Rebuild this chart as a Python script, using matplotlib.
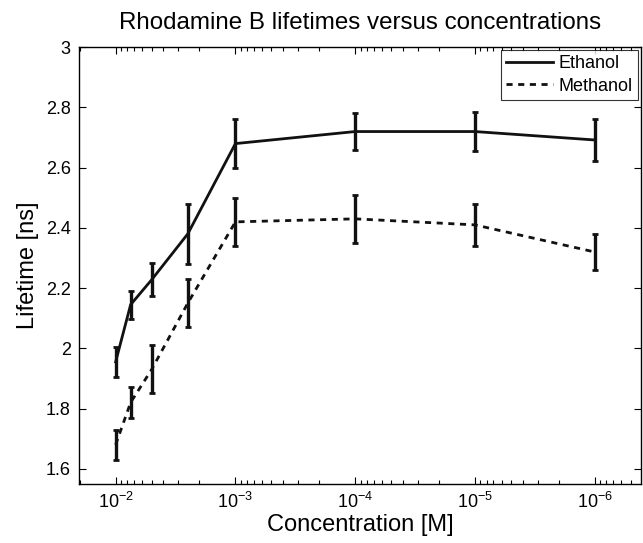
import matplotlib
matplotlib.use("Agg")
import matplotlib.pyplot as plt
import numpy as np

plt.rcParams['font.family'] = ['Liberation Sans', 'DejaVu Sans']
plt.rcParams['mathtext.fontset'] = 'custom'
plt.rcParams['mathtext.rm'] = 'Liberation Sans'

# data
conc = [1e-2, 7.5e-3, 5e-3, 2.5e-3, 1e-3, 1e-4, 1e-5, 1e-6]
ethanol = [1.955, 2.145, 2.228, 2.38, 2.68, 2.72, 2.72, 2.692]
ethanol_err = [0.05, 0.046, 0.055, 0.10, 0.082, 0.062, 0.066, 0.07]
methanol = [1.68, 1.82, 1.93, 2.15, 2.42, 2.43, 2.41, 2.32]
methanol_err = [0.05, 0.053, 0.08, 0.08, 0.08, 0.08, 0.07, 0.06]

fig = plt.figure(figsize=(6.43, 5.43), dpi=100)
ax = fig.add_axes([0.123, 0.109, 0.874, 0.804])

ax.errorbar(conc, ethanol, yerr=ethanol_err, color='#111111', lw=2.0,
            elinewidth=2.4, capsize=2.5, capthick=2.0, label='Ethanol')
ax.errorbar(conc, methanol, yerr=methanol_err, color='#111111', lw=2.0,
            ls=(0, (2.2, 2.0)), elinewidth=2.4, capsize=2.5, capthick=2.0,
            label='Methanol')

ax.set_xscale('log')
ax.set_xlim(0.0202, 4.1e-7)
ax.set_ylim(1.55, 3.0)
ax.set_xticks([1e-2, 1e-3, 1e-4, 1e-5, 1e-6])
ax.set_yticks([1.6, 1.8, 2.0, 2.2, 2.4, 2.6, 2.8, 3.0])
ax.set_yticklabels(['1.6', '1.8', '2', '2.2', '2.4', '2.6', '2.8', '3'])
ax.tick_params(which='both', direction='in', top=True, right=True,
               labelsize=13, width=0.8)
ax.tick_params(which='major', length=5, pad=6)
ax.tick_params(which='minor', length=3)
for s in ax.spines.values():
    s.set_linewidth(1.0)

ax.set_xlabel('Concentration [M]', fontsize=17, labelpad=1)
ax.set_ylabel('Lifetime [ns]', fontsize=17, labelpad=5)
ax.set_title('Rhodamine B lifetimes versus concentrations', fontsize=17.4, pad=13)

h, l = ax.get_legend_handles_labels()
h = [x[0] for x in h]
leg = ax.legend(h, l, loc='upper right', fontsize=13, frameon=True,
                fancybox=False, edgecolor='black', handlelength=2.6,
                handletextpad=0.3, borderpad=0.3, labelspacing=0.3,
                borderaxespad=0.15)
leg.get_frame().set_linewidth(0.8)

fig.savefig('out.png', dpi=100)
